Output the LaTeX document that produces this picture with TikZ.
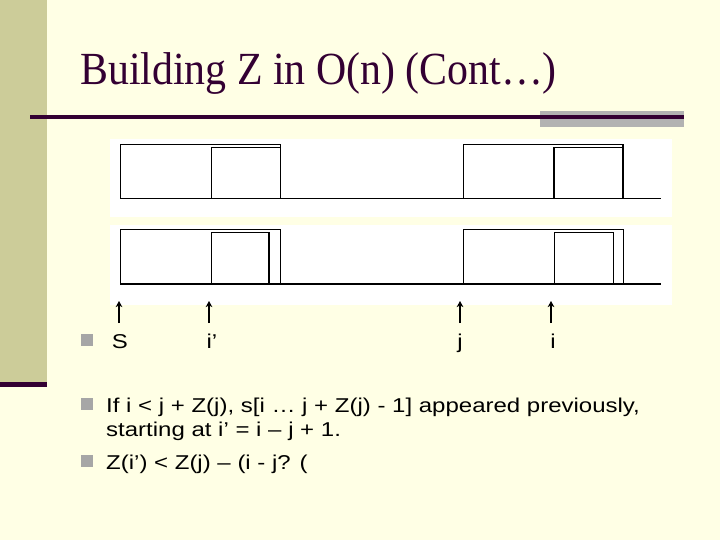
\documentclass[tikz,border=0pt]{standalone}
\usepackage{fontspec}
\usetikzlibrary{arrows.meta}
\setmainfont{Liberation Serif}
\setsansfont{Liberation Sans}
\newfontfamily\titlefont[FakeStretch=0.91]{Liberation Serif}
\newfontfamily\bodyfont[FakeStretch=1.2]{Liberation Sans}

\definecolor{slidebg}{HTML}{FFFFE5}
\definecolor{sidebar}{HTML}{CCCC99}
\definecolor{darkplum}{HTML}{330033}
\definecolor{bargray}{HTML}{B2B2B2}
\definecolor{dotgray}{HTML}{A6A6A6}

\tikzset{
  thinline/.style={line width=0.8pt},
  thickline/.style={line width=1.8pt},
  bodytext/.style={anchor=base west, inner sep=0pt, font=\bodyfont\fontsize{20}{17.5}\selectfont},
  marker/.style={anchor=base, inner sep=0pt, font=\bodyfont\fontsize{20}{20}\selectfont},
  markarrow/.style={line width=1.3pt, -{Stealth[length=6pt, width=6.5pt, inset=1.5pt]}},
  bulletsq/.style={fill=dotgray, minimum size=12pt, inner sep=0pt}
}

\begin{document}
\begin{tikzpicture}[x=1pt, y=-1pt]

  % Slide background
  \fill[slidebg] (0, 0) rectangle (720, 540);
  \useasboundingbox (0, 0) rectangle (720, 540);
  \fill[sidebar] (0, 0) rectangle (47, 382);
  \fill[darkplum] (0, 382) rectangle (47, 387);

  % Title
  \node[anchor=base west, inner sep=0pt, text=darkplum, font=\titlefont\fontsize{46}{50}\selectfont] (title) at (80, 85) {Building Z in O(n) (Cont…)};
  \fill[bargray] (540, 111) rectangle (684, 127);
  \draw[darkplum, line width=4pt] (30, 117) -- (684, 117);

  % White panels
  \fill[white] (110, 139) rectangle (672, 217);
  \fill[white] (110, 225) rectangle (672, 305);

  % Upper string
  \draw[thinline] (120, 144) rectangle (280, 198);
  \draw[thinline] (211, 198) -- (211, 147) -- (280, 147);
  \draw[thinline] (120, 198) -- (661, 198);
  \draw[thinline] (463, 144) rectangle (623, 198);
  \draw[thinline] (554, 147) -- (623, 147);
  \draw[thickline] (554, 198) -- (554, 147);
  \draw[thickline] (623, 198) -- (623, 144);

  % Lower string
  \draw[thinline] (120, 229) rectangle (280, 284);
  \draw[thinline] (211, 284) -- (211, 232) -- (269, 232);
  \draw[thickline] (269, 232) -- (269, 284);
  \draw[thinline] (463, 229) rectangle (623, 284);
  \draw[thinline] (554, 284) -- (554, 232) -- (613, 232) -- (613, 284);
  \draw[thickline] (120, 284) -- (661, 284);

  % Position markers
  \coordinate (tailS) at (119, 323);   \coordinate (tipS) at (119, 301);
  \coordinate (tailIp) at (209, 323);  \coordinate (tipIp) at (209, 301);
  \coordinate (tailJ) at (460, 323);   \coordinate (tipJ) at (460, 301);
  \coordinate (tailI) at (551, 323);   \coordinate (tipI) at (551, 301);
  \draw[markarrow] (tailS) -- (tipS);
  \draw[markarrow] (tailIp) -- (tipIp);
  \draw[markarrow] (tailJ) -- (tipJ);
  \draw[markarrow] (tailI) -- (tipI);

  \node[bulletsq] (dot0) at (87, 340) {};
  \node[marker] (labS) at (120, 348) {S};
  \node[marker] (labIp) at (212, 348) {i’};
  \node[marker] (labJ) at (460, 348) {j};
  \node[marker] (labI) at (553, 348) {i};

  % Bullet points
  \node[bulletsq] (dot1) at (87, 404) {};
  \node[bodytext] (line1) at (106, 412) {If i < j + Z(j), s[i … j + Z(j) - 1] appeared previously,};
  \node[bodytext] (line2) at (106, 436) {starting at i’ = i – j + 1.};
  \node[bulletsq] (dot2) at (87, 461) {};
  \node[bodytext] (line3) at (106, 469) {Z(i’) < Z(j) – (i - j? (};

\end{tikzpicture}
\end{document}
